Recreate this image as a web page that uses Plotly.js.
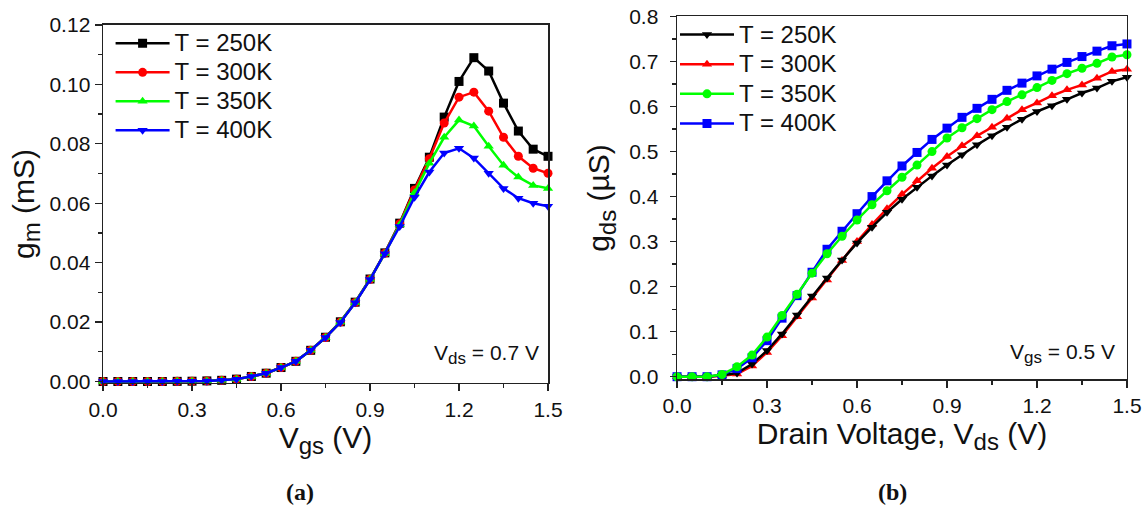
<!DOCTYPE html>
<html>
<head>
<meta charset="utf-8">
<script src="https://cdn.plot.ly/plotly-3.0.1.min.js"></script>
<style>
html,body{margin:0;padding:0;background:#fff;}
#chart{width:1146px;height:507px;}
</style>
</head>
<body>
<div id="chart"></div>
<script>
// ---- Data (a): transconductance vs Vgs ----
const vgs = [0.00,0.05,0.10,0.15,0.20,0.25,0.30,0.35,0.40,0.45,0.50,0.55,0.60,0.65,0.70,0.75,0.80,0.85,0.90,0.95,1.00,1.05,1.10,1.15,1.20,1.25,1.30,1.35,1.40,1.45,1.50];
const gm250 = [0,0,0,0,0,0.00005,0.0001,0.0002,0.0004,0.0008,0.0017,0.0028,0.0047,0.0068,0.0105,0.0149,0.0201,0.0267,0.0345,0.0433,0.0533,0.0650,0.0755,0.0890,0.1010,0.1090,0.1045,0.0937,0.0843,0.0782,0.0758];
const gm300 = [0,0,0,0,0,0.00005,0.0001,0.0002,0.0004,0.0008,0.0017,0.0028,0.0047,0.0068,0.0105,0.0148,0.0200,0.0266,0.0344,0.0432,0.0531,0.0645,0.0750,0.0870,0.0957,0.0974,0.0910,0.0822,0.0758,0.0718,0.0701];
const gm350 = [0,0,0,0,0,0.00005,0.0001,0.0002,0.0004,0.0008,0.0017,0.0028,0.0047,0.0068,0.0105,0.0148,0.0200,0.0266,0.0344,0.0431,0.0528,0.0635,0.0735,0.0822,0.0880,0.0860,0.0792,0.0728,0.0688,0.0660,0.0650];
const gm400 = [0,0,0,0,0,0.00005,0.0001,0.0002,0.0004,0.0008,0.0017,0.0028,0.0047,0.0068,0.0105,0.0148,0.0199,0.0265,0.0343,0.0430,0.0522,0.0620,0.0705,0.0769,0.0785,0.0752,0.0701,0.0650,0.0617,0.0600,0.0590];

// ---- Data (b): output conductance vs Vds ----
const vds = [0.00,0.05,0.10,0.15,0.20,0.25,0.30,0.35,0.40,0.45,0.50,0.55,0.60,0.65,0.70,0.75,0.80,0.85,0.90,0.95,1.00,1.05,1.10,1.15,1.20,1.25,1.30,1.35,1.40,1.45,1.50];
const gds250 = [0,0,0,0.003,0.008,0.028,0.058,0.095,0.137,0.179,0.219,0.259,0.297,0.332,0.365,0.394,0.421,0.446,0.470,0.493,0.515,0.535,0.554,0.572,0.589,0.602,0.616,0.630,0.641,0.656,0.665];
const gds300 = [0,0,0,0.002,0.006,0.024,0.054,0.091,0.133,0.175,0.215,0.258,0.300,0.338,0.373,0.405,0.435,0.463,0.489,0.513,0.535,0.554,0.574,0.593,0.608,0.624,0.637,0.648,0.663,0.678,0.683];
const gds350 = [0,0,0,0.005,0.022,0.048,0.088,0.136,0.183,0.230,0.273,0.312,0.348,0.382,0.413,0.443,0.470,0.500,0.530,0.553,0.573,0.593,0.611,0.626,0.642,0.658,0.673,0.685,0.696,0.710,0.715];
const gds400 = [0,0,0,0.004,0.018,0.042,0.080,0.130,0.180,0.232,0.283,0.323,0.362,0.400,0.435,0.468,0.498,0.527,0.552,0.576,0.596,0.616,0.636,0.652,0.668,0.683,0.698,0.711,0.723,0.735,0.739];

const seriesNames = ['T = 250K','T = 300K','T = 350K','T = 400K'];
const colors = ['#000000','#ff0000','#00ff00','#0000ff'];
const tickText15 = ['0.0','0.3','0.6','0.9','1.2','1.5'];

const FONT = 'Liberation Sans, Arial, sans-serif';

function tr(x, y, i, sym, xa, ya, leg, rank) {
  return {
    x: x, y: y, type: 'scatter', mode: 'lines+markers',
    name: '<span style="font-size:24px">' + seriesNames[i] + '</span>',
    xaxis: xa, yaxis: ya, legend: leg, legendrank: rank,
    line: {color: colors[i], width: 2.5},
    marker: {color: colors[i], symbol: sym, size: 9},
    cliponaxis: false
  };
}

const data = [
  tr(vgs, gm250, 0, 'square', 'x', 'y', 'legend', 1),
  tr(vgs, gm300, 1, 'circle', 'x', 'y', 'legend', 2),
  tr(vgs, gm350, 2, 'triangle-up', 'x', 'y', 'legend', 3),
  tr(vgs, gm400, 3, 'triangle-down', 'x', 'y', 'legend', 4),
  tr(vds, gds300, 1, 'triangle-up', 'x2', 'y2', 'legend2', 2),
  tr(vds, gds250, 0, 'triangle-down', 'x2', 'y2', 'legend2', 1),
  tr(vds, gds400, 3, 'square', 'x2', 'y2', 'legend2', 4),
  tr(vds, gds350, 2, 'circle', 'x2', 'y2', 'legend2', 3)
];

const axCommon = {
  showline: true, linecolor: '#222', linewidth: 1.5, mirror: true,
  ticks: 'outside', ticklen: 7, tickwidth: 1.3, tickcolor: '#222',
  showgrid: false, zeroline: false,
  tickfont: {family: FONT, size: 21, color: '#111'},
};
const minorX = {dtick: 0.15, tick0: 0, ticks: 'outside', ticklen: 4, tickcolor: '#222'};
const titleFont = {family: FONT, size: 30, color: '#111'};
const sub = s => '<sub><span style="font-size:24px">' + s + '</span></sub>';

const layout = {
  width: 1146, height: 507,
  margin: {l: 0, r: 0, t: 0, b: 0},
  paper_bgcolor: '#fff', plot_bgcolor: '#fff',
  font: {family: FONT, color: '#111'},
  showlegend: true,
  xaxis: Object.assign({}, axCommon, {
    domain: [0.0899, 0.4782], range: [0, 1.5], anchor: 'y',
    tickvals: [0, 0.3, 0.6, 0.9, 1.2, 1.5], ticktext: tickText15,
    minor: minorX,
    title: {text: 'V' + sub('gs') + ' (V)', font: titleFont, standoff: 6}
  }),
  yaxis: Object.assign({}, axCommon, {
    domain: [0.2446, 0.9507], range: [-0.0005, 0.12], anchor: 'x',
    tickvals: [0, 0.02, 0.04, 0.06, 0.08, 0.10, 0.12],
    ticktext: ['0.00','0.02','0.04','0.06','0.08','0.10','0.12'],
    minor: {dtick: 0.01, tick0: 0, ticks: 'outside', ticklen: 4, tickcolor: '#222'},
    title: {text: 'g' + sub('m') + ' (mS)', font: titleFont, standoff: 6}
  }),
  xaxis2: Object.assign({}, axCommon, {
    domain: [0.5908, 0.9834], range: [0, 1.5], anchor: 'y2',
    tickvals: [0, 0.3, 0.6, 0.9, 1.2, 1.5], ticktext: tickText15,
    minor: minorX,
    title: {text: 'Drain Voltage, V' + sub('ds') + ' (V)', font: titleFont, standoff: 6}
  }),
  yaxis2: Object.assign({}, axCommon, {
    domain: [0.2515, 0.9675], range: [-0.0062, 0.8], anchor: 'x2',
    ticklen: 6, ticklabelstandoff: 7,
    tickvals: [0, 0.1, 0.2, 0.3, 0.4, 0.5, 0.6, 0.7, 0.8],
    ticktext: ['0.0','0.1','0.2','0.3','0.4','0.5','0.6','0.7','0.8'],
    minor: {dtick: 0.05, tick0: 0, ticks: 'outside', ticklen: 4, tickcolor: '#222'},
    title: {text: 'g' + sub('ds') + ' (µS)', font: titleFont, standoff: 10}
  }),
  legend: {
    x: 0.0965, y: 0.953, xanchor: 'left', yanchor: 'top',
    bgcolor: 'rgba(0,0,0,0)', borderwidth: 0, itemwidth: 54,
    font: {family: FONT, size: 20, color: '#111'}, tracegroupgap: 0
  },
  legend2: {
    x: 0.589, y: 0.971, xanchor: 'left', yanchor: 'top',
    bgcolor: 'rgba(0,0,0,0)', borderwidth: 0, itemwidth: 54,
    font: {family: FONT, size: 20.5, color: '#111'}, tracegroupgap: 0
  },
  annotations: [
    {xref: 'paper', yref: 'paper', x: 0.472, y: 0.30, xanchor: 'right', yanchor: 'middle',
     text: 'V<sub><span style="font-size:17px">ds</span></sub> = 0.7 V', showarrow: false,
     font: {family: FONT, size: 21, color: '#111'}},
    {xref: 'paper', yref: 'paper', x: 0.975, y: 0.303, xanchor: 'right', yanchor: 'middle',
     text: 'V<sub><span style="font-size:17px">gs</span></sub> = 0.5 V', showarrow: false,
     font: {family: FONT, size: 21, color: '#111'}},
    {xref: 'paper', yref: 'paper', x: 0.262, y: 0.03, xanchor: 'center', yanchor: 'middle',
     text: '<b>(a)</b>', showarrow: false, font: {family: 'Liberation Serif, DejaVu Serif, serif', size: 24, color: '#111'}},
    {xref: 'paper', yref: 'paper', x: 0.779, y: 0.03, xanchor: 'center', yanchor: 'middle',
     text: '<b>(b)</b>', showarrow: false, font: {family: 'Liberation Serif, DejaVu Serif, serif', size: 24, color: '#111'}}
  ]
};

Plotly.newPlot('chart', data, layout, {displayModeBar: false, staticPlot: true});
</script>
</body>
</html>
